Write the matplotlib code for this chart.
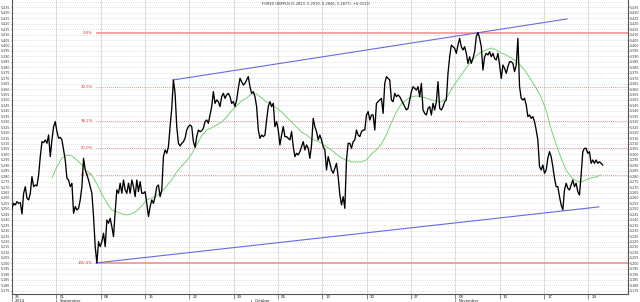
import numpy as np
import matplotlib
matplotlib.use("Agg")
import matplotlib.pyplot as plt
from matplotlib.transforms import blended_transform_factory

# ---------------- data ----------------
title_text = "FOREX GBPPLN (5.2823, 5.2970, 5.2840, 5.2877), +0.0133)"

close_a = [
    5.2505, 5.2551, 5.2536, 5.2566, 5.2551, 5.2557, 5.2453, 5.2643, 5.2704, 5.2597,
    5.2582, 5.2643, 5.2796, 5.2704, 5.2719, 5.2710, 5.2811, 5.2980, 5.3117, 5.3108,
    5.3133, 5.3102, 5.3178, 5.2980, 5.3133, 5.3255, 5.3301, 5.3209, 5.3148, 5.3157,
    5.3133, 5.3041, 5.2949, 5.2781, 5.2765, 5.2704, 5.2735, 5.2459, 5.2521, 5.2490,
    5.2505, 5.2582, 5.2704, 5.2964, 5.2857, 5.2811, 5.2765, 5.2704, 5.2643, 5.2429,
    5.2153, 5.2003, 5.2199, 5.2153, 5.2199, 5.2276, 5.2153, 5.2398, 5.2368, 5.2413,
    5.2337, 5.2245, 5.2475, 5.2674, 5.2643, 5.2735, 5.2643, 5.2765, 5.2674, 5.2643,
    5.2735, 5.2643, 5.2765, 5.2704, 5.2612, 5.2765, 5.2658, 5.2750, 5.2643, 5.2643,
    5.2658, 5.2551, 5.2429, 5.2521, 5.2582, 5.2551, 5.2612, 5.2704, 5.2719, 5.2612,
    5.2674, 5.2980, 5.3041, 5.3010, 5.3071, 5.3255, 5.3423, 5.3683, 5.3561, 5.3255,
    5.3102, 5.3078, 5.3102, 5.3117, 5.3148, 5.3224, 5.3255, 5.3270, 5.3255, 5.3117,
    5.3065, 5.3163, 5.3224, 5.3209,
]
close_b = [
    5.3218, 5.3240, 5.3301, 5.3316, 5.3286, 5.3362, 5.3439, 5.3576, 5.3469, 5.3500,
    5.3484, 5.3439, 5.3530, 5.3561, 5.3515, 5.3546, 5.3561, 5.3530, 5.3469, 5.3484,
    5.3439, 5.3500, 5.3607, 5.3699, 5.3668, 5.3637, 5.3653, 5.3683, 5.3714, 5.3622,
    5.3561, 5.3576, 5.3530, 5.3439, 5.3224, 5.3148, 5.3178, 5.3163, 5.3178, 5.3316,
    5.3439, 5.3484, 5.3439, 5.3469, 5.3255, 5.3301, 5.3224, 5.3087, 5.3178, 5.3255,
    5.3163, 5.3163, 5.3148, 5.3133, 5.3209, 5.3071, 5.2980, 5.3010, 5.2995, 5.3025,
    5.3071, 5.3117, 5.3041, 5.3087, 5.3056, 5.2964, 5.3087, 5.3331, 5.3255, 5.3209,
    5.3133, 5.3178, 5.3133, 5.3071, 5.3041, 5.2857, 5.2980, 5.2918, 5.2857, 5.2827,
    5.2872, 5.2918, 5.2796, 5.2628, 5.2536, 5.2612, 5.2505, 5.2949, 5.3102, 5.3102,
    5.3056, 5.3117, 5.3133, 5.3224, 5.3178, 5.3163, 5.3209, 5.3224, 5.3224, 5.3362,
    5.3393, 5.3316, 5.3362, 5.3362, 5.3224, 5.3469, 5.3484, 5.3500, 5.3515, 5.3377,
    5.3653, 5.3714, 5.3699, 5.3683, 5.3500, 5.3484, 5.3561, 5.3530, 5.3546, 5.3530,
]
close_c = [
    5.3500, 5.3469, 5.3438, 5.3408, 5.3423, 5.3500, 5.3576, 5.3622, 5.3607, 5.3591,
    5.3622, 5.3530, 5.3653, 5.3408, 5.3377, 5.3362, 5.3423, 5.3438, 5.3362, 5.3469,
    5.3408, 5.3484, 5.3668, 5.3423, 5.3408, 5.3438, 5.3484, 5.3500, 5.3744, 5.3897,
    5.4004, 5.3989, 5.3974, 5.3928, 5.4004, 5.4066, 5.3989, 5.3959, 5.3989, 5.3928,
    5.3836, 5.3897, 5.3836, 5.3882, 5.3943, 5.4081, 5.4119, 5.4066, 5.3989, 5.3775,
    5.3897, 5.3928, 5.3913, 5.3943, 5.3897, 5.3928, 5.3882, 5.3867, 5.3928, 5.3821,
    5.3698, 5.3821, 5.3790, 5.3744, 5.3806, 5.3851, 5.3851, 5.3836, 5.3760, 5.3821,
    5.4066, 5.3622, 5.3515, 5.3500, 5.3515, 5.3454, 5.3347, 5.3362, 5.3331, 5.3347,
    5.3301, 5.3224, 5.3132, 5.2888, 5.2857, 5.2903, 5.2826, 5.2857, 5.2964, 5.3025,
    5.2979, 5.2888, 5.2780, 5.2704, 5.2704, 5.2612, 5.2536, 5.2490, 5.2673, 5.2735,
    5.2689, 5.2673, 5.2719, 5.2765, 5.2704, 5.2735, 5.2658, 5.2627, 5.2811, 5.3025,
    5.3056, 5.3056, 5.3010, 5.3025, 5.2918, 5.2949, 5.2918, 5.2949, 5.2918, 5.2933,
    5.2918, 5.2903,
]
bar_days = 0.1877          # trading days per bar

ma_start_day = 4.5
ma_step_days = 0.563
ma_values = [
    5.2784, 5.2885, 5.2968, 5.2995, 5.2986, 5.2949, 5.2903, 5.2848, 5.2811, 5.2729,
    5.2637, 5.2554, 5.2490, 5.2472, 5.2453, 5.2444, 5.2453, 5.2481, 5.2527, 5.2582,
    5.2600, 5.2619, 5.2655, 5.2711, 5.2766, 5.2839, 5.2894, 5.2940, 5.3004, 5.3087,
    5.3170, 5.3225, 5.3243, 5.3270, 5.3298, 5.3344, 5.3399, 5.3445, 5.3491, 5.3518,
    5.3555, 5.3555, 5.3518, 5.3482, 5.3463, 5.3427, 5.3390, 5.3344, 5.3298, 5.3252,
    5.3206, 5.3179, 5.3142, 5.3124, 5.3105, 5.3069, 5.3041, 5.3004, 5.2968, 5.2949,
    5.2931, 5.2931, 5.2931, 5.2949, 5.3004, 5.3041, 5.3096, 5.3179, 5.3289, 5.3390,
    5.3463, 5.3500, 5.3528, 5.3537, 5.3528, 5.3518, 5.3500, 5.3491, 5.3482, 5.3518,
    5.3592, 5.3665, 5.3729, 5.3794, 5.3858, 5.3904, 5.3941, 5.3959, 5.3977, 5.3959,
    5.3931, 5.3913, 5.3886, 5.3858, 5.3812, 5.3757, 5.3684, 5.3610, 5.3528, 5.3408,
    5.3234, 5.3096, 5.2968, 5.2857, 5.2793, 5.2756, 5.2747, 5.2766, 5.2784, 5.2793,
    5.2811,
]

week_days = [0, 5, 10, 15, 20, 25, 30, 35, 40, 45, 50, 55, 60, 65]
week_labels = ["25", "01", "08", "15", "22", "29", "06", "13", "20", "27",
               "03", "10", "17", "24"]
month_days = [0, 5, 27, 50]
month_labels = ["2014", "September", "October", "November"]

fib_high = 5.4119
fib_low = 5.2003
fib_start_day = 9.46
fib_levels = [0.0, 23.6, 38.2, 50.0, 61.8, 100.0]

upper_days = [18.13, 62.6]
upper_vals = [5.3683, 5.4244]
lower_days = [9.46, 66.2]
lower_vals = [5.2003, 5.2518]

y_min, y_max = 5.1718, 5.4418
x_max = 69.48
grid_vals = np.round(np.arange(5.175, 5.4401, 0.005), 3)
ytick_vals = np.round(np.arange(5.175, 5.4351, 0.005), 3)

# ---------------- figure ----------------
W, H = 640, 302
fig = plt.figure(figsize=(W / 100, H / 100), dpi=100)
fig.patch.set_facecolor("white")
ax = fig.add_axes([12 / W, 8 / H, 616 / W, 294 / H])
ax.set_facecolor("white")

close = close_a + close_b + close_c
xs = np.arange(len(close)) * bar_days
ma_x = ma_start_day + np.arange(len(ma_values)) * ma_step_days

ax.set_xlim(0, x_max)
ax.set_ylim(y_min, y_max)

# grid
for d in week_days[1:]:
    ax.axvline(d, color="#d8d8d8", lw=0.6, zorder=0)
for v in grid_vals:
    ax.axhline(v, color="#c4c4c4", lw=0.5, ls=(0, (1, 2)), zorder=0)

# fibonacci levels
rng = fib_high - fib_low
for lvl in fib_levels:
    val = fib_high - rng * lvl / 100.0
    if lvl in (0.0, 100.0):
        ax.hlines(val, fib_start_day, x_max, color="#f08a8a", lw=1.1, zorder=1)
    else:
        ax.hlines(val, fib_start_day, x_max, color="#e06a6a", lw=0.6,
                  ls=(0, (1, 1.5)), zorder=1)
    ax.text(fib_start_day - 0.35, val, f"{lvl:.1f}%", ha="right", va="center",
            fontsize=2.8, color="#e03030", zorder=2)

# channel lines
ax.plot(upper_days, upper_vals, color="#6a6ae0", lw=0.8, zorder=3)
ax.plot(lower_days, lower_vals, color="#6a6ae0", lw=0.8, zorder=3)

# moving average and price
ax.plot(ma_x, ma_values, color="#7ccf7c", lw=0.7, zorder=4)
ax.plot(xs, close, color="black", lw=0.95, zorder=5)

# y axis labels on both sides
ax.set_yticks(ytick_vals)
ax.set_yticklabels([f"{v:.3f}" for v in ytick_vals])
ax.tick_params(axis="y", which="both", left=True, right=True, labelleft=True,
               labelright=True, length=1.0, width=0.4, pad=0.3, labelsize=2.3,
               colors="#333333")

# x axis: weekly ticks with day labels, month row below
ax.set_xticks(week_days)
ax.set_xticklabels([])
ax.tick_params(axis="x", length=3.5, width=0.5, color="#555555", direction="out")
tr = blended_transform_factory(ax.transData, ax.transAxes)
for d, lab in zip(week_days, week_labels):
    ax.text(d + 0.35, -0.011, lab, transform=tr, ha="left", va="center",
            fontsize=2.8, color="#222222", clip_on=False)
for d, lab in zip(month_days, month_labels):
    ax.plot([d, d], [-0.019, -0.03], transform=tr, color="#555555", lw=0.5,
            clip_on=False)
    ax.text(d + 0.35, -0.0235, lab, transform=tr, ha="left", va="center",
            fontsize=2.8, color="#222222", clip_on=False)

for side in ("left", "right", "bottom"):
    ax.spines[side].set_color("#555555")
    ax.spines[side].set_linewidth(0.8)
ax.spines["top"].set_visible(False)

fig.text(316 / W, 1 - 4 / H, title_text, ha="center", va="center",
         fontsize=2.6, color="#333333")

fig.savefig("out.png", dpi=100, facecolor="white")
